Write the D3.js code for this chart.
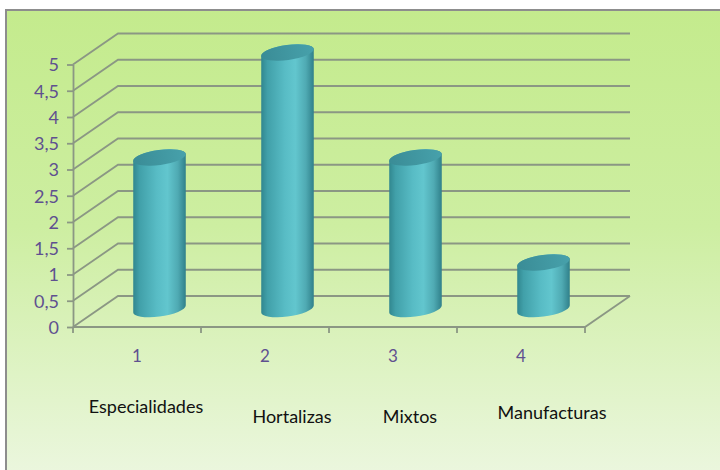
<!DOCTYPE html>
<html>
<head>
<meta charset="utf-8">
<script src="https://cdn.jsdelivr.net/npm/d3@7"></script>
<style>
  body { margin: 0; background: #fff; }
  text { font-family: Lato, "Noto Sans", sans-serif; }
</style>
</head>
<body>
<div class="canvas"></div>
<script>
// chart data
const categories = ['1', '2', '3', '4'];
const names = ['Especialidades', 'Hortalizas', 'Mixtos', 'Manufacturas'];
const values = [3, 5, 3, 1];
const yTicks = [0, 0.5, 1, 1.5, 2, 2.5, 3, 3.5, 4, 4.5, 5];

// layout
const dims = {width: 720, height: 470};
const plot = {left: 73, right: 585, top: 64.5, bottom: 327};
const depth = {dx: 45, dy: -31};
const nameNudge = [{x: 9, y: 413}, {x: 27, y: 423}, {x: 17, y: 423}, {x: 31, y: 419}];
const gridCol = '#8b9784';
const purple = '#5f5090';

const svg = d3.select('.canvas')
    .append('svg')
    .attr('width', dims.width)
    .attr('height', dims.height);

const defs = svg.append('defs');

const bg = defs.append('linearGradient')
    .attr('id', 'bg')
    .attr('x1', 0).attr('y1', 0).attr('x2', 0).attr('y2', 1);
bg.append('stop').attr('offset', '0%').attr('stop-color', '#c4eb8d');
bg.append('stop').attr('offset', '45%').attr('stop-color', '#cdeea1');
bg.append('stop').attr('offset', '100%').attr('stop-color', '#edf7e2');

const body = defs.append('linearGradient')
    .attr('id', 'cyl')
    .attr('x1', 0).attr('y1', 0).attr('x2', 1).attr('y2', 0);
[['0%', '#31878f'], ['12%', '#41a0a9'], ['45%', '#58bcc5'], ['65%', '#62c6ce'], ['85%', '#4faab3'], ['100%', '#30808a']]
    .forEach(s => body.append('stop').attr('offset', s[0]).attr('stop-color', s[1]));

const cap = defs.append('linearGradient')
    .attr('id', 'cap')
    .attr('x1', 0).attr('y1', 0).attr('x2', 1).attr('y2', 0);
cap.append('stop').attr('offset', '0%').attr('stop-color', '#3a8c96');
cap.append('stop').attr('offset', '100%').attr('stop-color', '#47a1ab');

// frame
svg.append('rect')
    .attr('x', 6).attr('y', 10)
    .attr('width', dims.width + 10).attr('height', dims.height + 10)
    .attr('fill', 'url(#bg)')
    .attr('stroke', '#8d8d8d')
    .attr('stroke-width', 2);

const x = d3.scaleBand()
    .domain(categories)
    .range([plot.left, plot.right]);

const y = d3.scaleLinear()
    .domain([0, 5])
    .range([plot.bottom, plot.top]);

const fmt = d3.formatLocale({decimal: ',', thousands: '.', grouping: [3], currency: ['', '']}).format('~g');

// side wall diagonals + back wall lines
const walls = svg.append('g')
    .attr('fill', 'none')
    .attr('stroke', gridCol)
    .attr('stroke-width', 1.8);

walls.selectAll('path.grid')
    .data(yTicks)
    .enter()
    .append('path')
    .attr('class', 'grid')
    .attr('d', t => `M${plot.left},${y(t)} L${plot.left + depth.dx},${y(t) + depth.dy} L${plot.right + depth.dx},${y(t) + depth.dy}`);

// floor
walls.append('path')
    .attr('d', `M${plot.left},${y(0)} L${plot.right},${y(0)} L${plot.right + depth.dx},${y(0) + depth.dy}`);

// y axis
const yAxis = svg.append('g')
    .attr('transform', `translate(${plot.left},0)`)
    .attr('font-size', 18)
    .attr('font-family', 'Lato, sans-serif')
    .call(d3.axisLeft(y).tickValues(yTicks).tickFormat(fmt).tickSize(6).tickSizeOuter(0).tickPadding(8));
yAxis.attr('font-size', 18).attr('font-family', 'Lato, sans-serif');
yAxis.select('.domain').attr('stroke', gridCol).attr('stroke-width', 1.8);
yAxis.selectAll('.tick line').attr('stroke', gridCol).attr('stroke-width', 1.8);
yAxis.selectAll('.tick text')
    .attr('fill', purple)
    .attr('dy', '0.36em');

// x axis ticks at band edges
const edges = categories.map(c => x(c)).concat([x(categories[categories.length - 1]) + x.bandwidth()]);
svg.append('g').selectAll('line')
    .data(edges)
    .enter()
    .append('line')
    .attr('x1', d => d).attr('x2', d => d)
    .attr('y1', y(0)).attr('y2', y(0) + 6)
    .attr('stroke', gridCol)
    .attr('stroke-width', 1.8);

svg.append('g').selectAll('text')
    .data(categories)
    .enter()
    .append('text')
    .attr('x', d => x(d) + x.bandwidth() / 2)
    .attr('y', 362)
    .attr('text-anchor', 'middle')
    .attr('fill', purple)
    .style('font-size', '17px')
    .text(d => d);

// cylinders
const rx = 26.5, ry = 7.5, tilt = -8;
const th = tilt * Math.PI / 180;
// horizontal half-extent of rotated ellipse
const tEdge = Math.atan2(-ry * Math.sin(th), rx * Math.cos(th));
const ex = rx * Math.cos(tEdge) * Math.cos(th) - ry * Math.sin(tEdge) * Math.sin(th);
const ey = rx * Math.cos(tEdge) * Math.sin(th) + ry * Math.sin(tEdge) * Math.cos(th);

const cyl = svg.append('g').selectAll('g')
    .data(categories.map((c, i) => ({cat: c, value: values[i]})))
    .enter()
    .append('g');

const cxOf = d => x(d.cat) + x.bandwidth() / 2 + depth.dx / 2;
const topOf = d => y(d.value) - 12;
const botOf = () => y(0) - 18;

cyl.append('path')
    .attr('fill', 'url(#cyl)')
    .attr('d', d => {
        const cx = cxOf(d), t = topOf(d), b = botOf();
        return `M${cx - ex},${t - ey} L${cx - ex},${b - ey}` +
            ` A${rx},${ry} ${tilt} 0 0 ${cx + ex},${b + ey}` +
            ` L${cx + ex},${t + ey}` +
            ` A${rx},${ry} ${tilt} 0 0 ${cx - ex},${t - ey} Z`;
    });

cyl.append('ellipse')
    .attr('fill', 'url(#cap)')
    .attr('rx', rx).attr('ry', ry)
    .attr('transform', d => `translate(${cxOf(d)},${topOf(d)}) rotate(${tilt})`);

// category names
svg.append('g').selectAll('text')
    .data(names)
    .enter()
    .append('text')
    .attr('x', (d, i) => x(categories[i]) + x.bandwidth() / 2 + nameNudge[i].x)
    .attr('y', (d, i) => nameNudge[i].y)
    .attr('text-anchor', 'middle')
    .attr('fill', '#111')
    .style('font-size', '18px')
    .text(d => d);
</script>
</body>
</html>
